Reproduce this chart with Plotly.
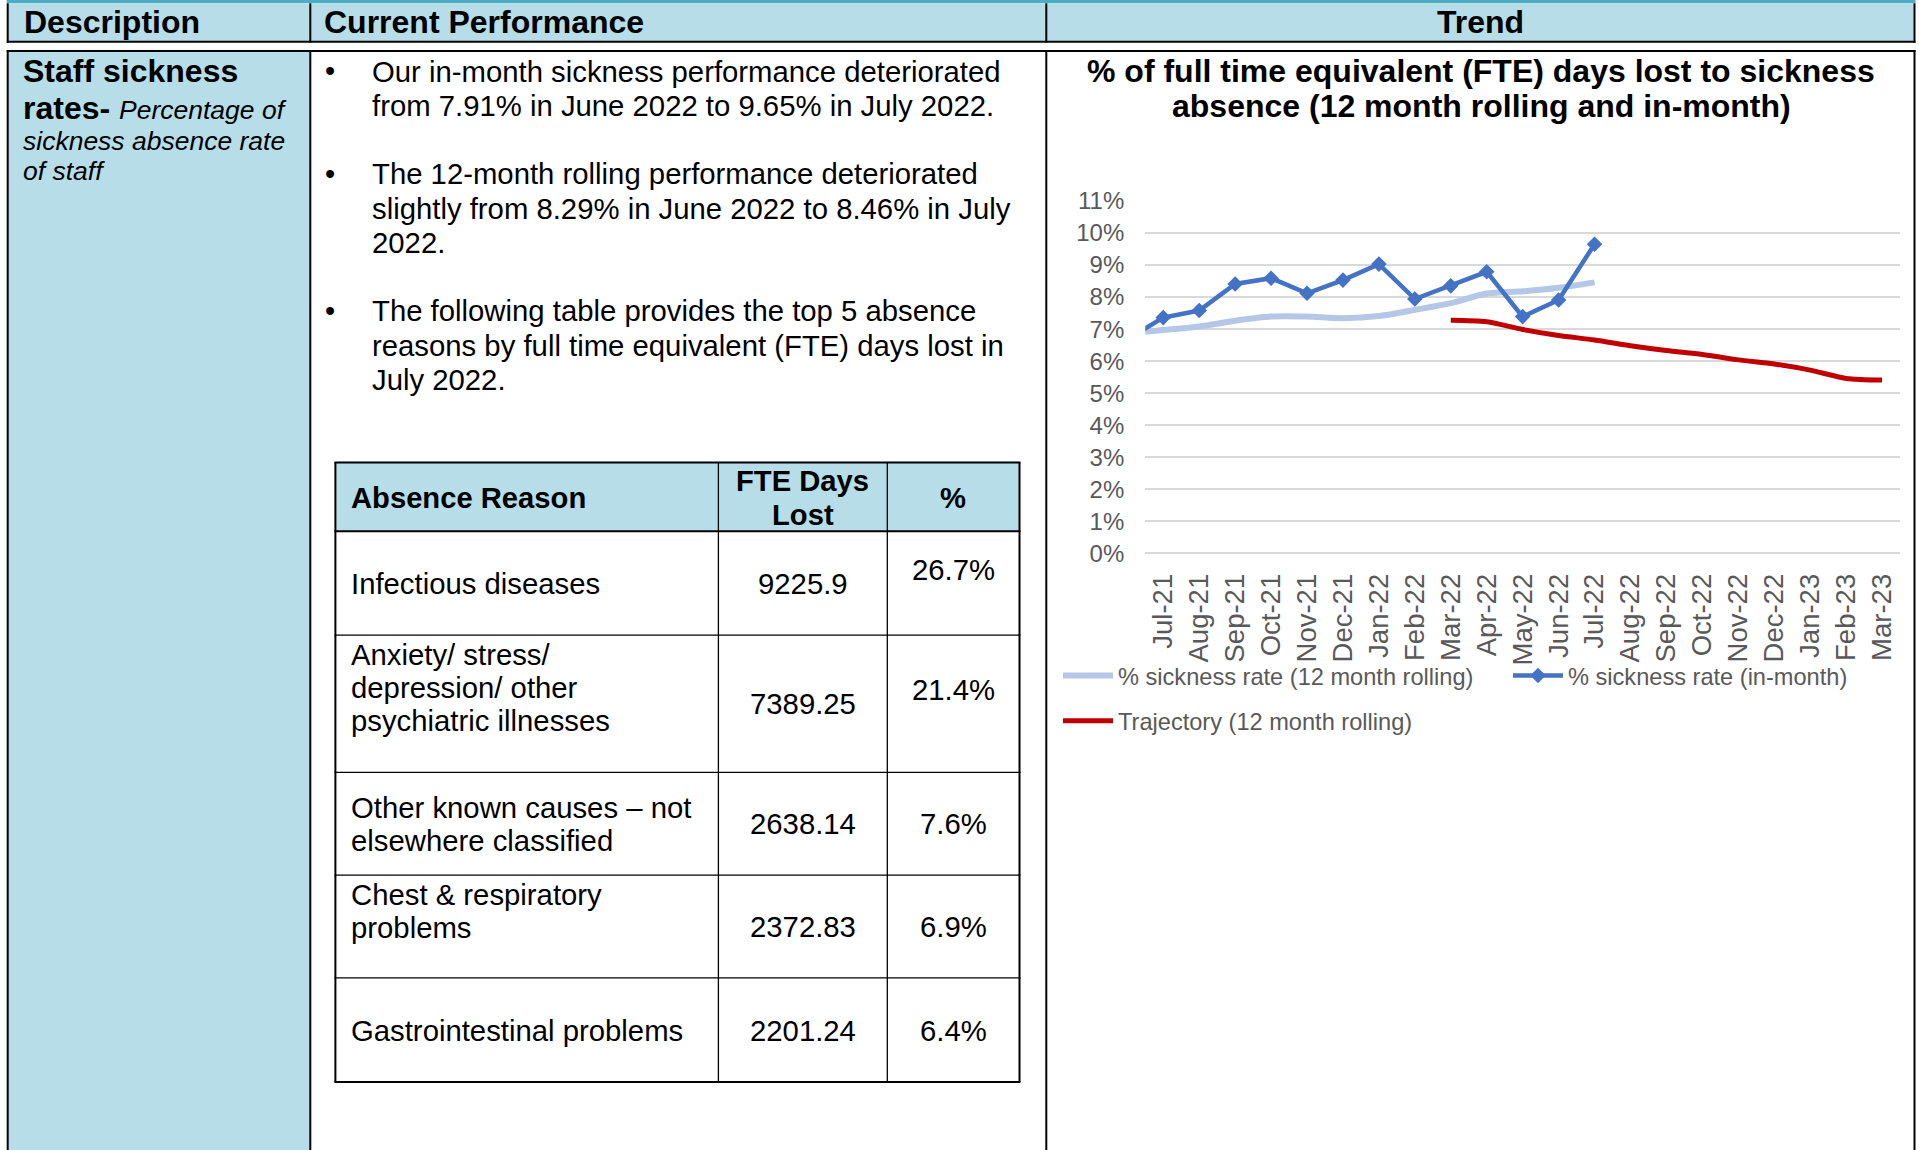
import textwrap
import plotly.graph_objects as go

W, H = 1919, 1150

# ---------------- data ----------------
months = ["Jun-21", "Jul-21", "Aug-21", "Sep-21", "Oct-21", "Nov-21", "Dec-21",
          "Jan-22", "Feb-22", "Mar-22", "Apr-22", "May-22", "Jun-22", "Jul-22",
          "Aug-22", "Sep-22", "Oct-22", "Nov-22", "Dec-22", "Jan-23", "Feb-23", "Mar-23"]

rolling_months = months[:14]
rolling_12m = [6.87, 6.97, 7.08, 7.26, 7.39, 7.39, 7.34, 7.41, 7.60, 7.81, 8.11, 8.18, 8.29, 8.46]

inmonth_months = months[:14]
in_month = [6.68, 7.36, 7.58, 8.41, 8.59, 8.12, 8.53, 9.03, 7.94, 8.35, 8.79, 7.39, 7.91, 9.65]

traj_months = months[9:]
trajectory = [7.28, 7.23, 6.99, 6.80, 6.66, 6.48, 6.33, 6.21, 6.04, 5.91, 5.72, 5.46, 5.41]

reasons = ["Infectious diseases",
           "Anxiety/ stress/ depression/ other psychiatric illnesses",
           "Other known causes \u2013 not elsewhere classified",
           "Chest & respiratory problems",
           "Gastrointestinal problems"]
fte_days = ["9225.9", "7389.25", "2638.14", "2372.83", "2201.24"]
fte_pct = ["26.7%", "21.4%", "7.6%", "6.9%", "6.4%"]

# ---------------- styling ----------------
DOC = "Liberation Sans, Arial, sans-serif"
LIGHT = "#B6DDE8"
TEAL = "#4BACC6"
AXIS_TXT = "#595959"

def X(px):
    return px / W

def Y(py):
    return 1 - py / H

shapes = []
annotations = []

def rect(x0, y0, x1, y1, fill):
    shapes.append(dict(type="rect", xref="paper", yref="paper", x0=X(x0), x1=X(x1),
                       y0=Y(y1), y1=Y(y0), fillcolor=fill, line=dict(width=0), layer="below"))

def hline(x0, x1, y, w=2, color="black"):
    shapes.append(dict(type="line", xref="paper", yref="paper", x0=X(x0), x1=X(x1),
                       y0=Y(y), y1=Y(y), line=dict(color=color, width=w)))

def vline(x, y0, y1, w=2, color="black"):
    shapes.append(dict(type="line", xref="paper", yref="paper", x0=X(x), x1=X(x),
                       y0=Y(y0), y1=Y(y1), line=dict(color=color, width=w)))

def txt(s, x, y, size, weight="normal", style="normal", anchor="left", family=DOC, color="black"):
    annotations.append(dict(text=s, x=X(x), y=Y(y), xref="paper", yref="paper",
                            xanchor=anchor, yanchor="middle", showarrow=False, align=anchor,
                            font=dict(size=size, family=family, color=color, weight=weight, style=style)))

# page table frame
L, C1, C2, R = 7.7, 310.3, 1046.3, 1914.5
rect(L - 1, 0, R + 1, 3.3, TEAL)
rect(L, 3.3, R, 41.7, LIGHT)
rect(L, 51, C1, H, LIGHT)
for xx in (L, C1, C2, R):
    vline(xx, 3.3, 42.7)
    vline(xx, 50, H)
hline(L - 1, R + 1, 41.7)
hline(L - 1, R + 1, 51)

# header texts
txt("Description", 22, 22, 32, weight="bold")
txt("Current Performance", 322, 22, 32, weight="bold")
txt("Trend", (C2 + R) / 2, 22, 32, weight="bold", anchor="center")

# description column
txt("Staff sickness", 21, 71, 32, weight="bold")
txt("<b>rates-</b> <i><span style='font-size:26.5px'>Percentage of</span></i>", 21, 107.5, 32)
txt("sickness absence rate", 21, 141, 26.5, style="italic")
txt("of staff", 21, 171, 26.5, style="italic")

# bullets
bullets = [
    ["Our in-month sickness performance deteriorated",
     f"from {in_month[12]:.2f}% in June 2022 to {in_month[13]:.2f}% in July 2022."],
    ["The 12-month rolling performance deteriorated",
     f"slightly from {rolling_12m[12]:.2f}% in June 2022 to {rolling_12m[13]:.2f}% in July",
     "2022."],
    ["The following table provides the top 5 absence",
     "reasons by full time equivalent (FTE) days lost in",
     "July 2022."],
]
bullet_top = [71, 173.8, 310.9]
LS = 34.3
for lines, y0 in zip(bullets, bullet_top):
    txt("\u2022", 330, y0, 29, anchor="center")
    for i, line in enumerate(lines):
        txt(line, 370, y0 + i * LS, 29.3)

# absence table
TL, TC1, TC2, TR = 335.4, 718.4, 887.3, 1019.5
rows = [462.6, 531.2, 635.2, 772.3, 875.1, 977.9, 1082]
rect(TL, rows[0], TR, rows[1], LIGHT)
for i, yy in enumerate(rows):
    hline(TL - 1, TR + 1, yy, w=2 if i in (0, 1, len(rows) - 1) else 1.3)
vline(TL, rows[0], rows[-1], w=2)
vline(TR, rows[0], rows[-1], w=2)
vline(TC1, rows[0], rows[-1], w=1.3)
vline(TC2, rows[0], rows[-1], w=1.3)

txt("Absence Reason", 349, 498, 29.2, weight="bold")
txt("FTE Days", (TC1 + TC2) / 2, 481, 29.2, weight="bold", anchor="center")
txt("Lost", (TC1 + TC2) / 2, 515, 29.2, weight="bold", anchor="center")
txt("%", (TC2 + TR) / 2, 498, 29.2, weight="bold", anchor="center")

reason_first_y = [583.8, 654.8, 807.8, 894.7, 1030.5]
days_y = [583.8, 703.8, 823.7, 926.5, 1030.5]
pct_y = [569, 689, 823.7, 926.5, 1030.5]
TLS = 33
for k in range(len(reasons)):
    for j, line in enumerate(textwrap.wrap(reasons[k], width=25)):
        txt(line, 349, reason_first_y[k] + j * TLS, 29.3)
    txt(fte_days[k], (TC1 + TC2) / 2, days_y[k], 29.3, anchor="center")
    txt(fte_pct[k], (TC2 + TR) / 2, pct_y[k], 29.3, anchor="center")

# chart title
txt("% of full time equivalent (FTE) days lost to sickness", 1481, 71, 32, weight="bold", anchor="center")
txt("absence (12 month rolling and in-month)", 1481, 106.5, 32, weight="bold", anchor="center")

# ---------------- chart ----------------
fig = go.Figure()
fig.add_trace(go.Scatter(x=rolling_months, y=rolling_12m, mode="lines",
                         name="% sickness rate (12 month rolling)",
                         line=dict(color="#B4C7E7", width=6, shape="spline", smoothing=0.8),
                         legend="legend"))
fig.add_trace(go.Scatter(x=inmonth_months, y=in_month, mode="lines+markers",
                         name="% sickness rate (in-month)",
                         line=dict(color="#4472C4", width=4.5),
                         marker=dict(symbol="diamond", size=12, color="#4472C4"),
                         legend="legend2"))
fig.add_trace(go.Scatter(x=traj_months, y=trajectory, mode="lines",
                         name="Trajectory (12 month rolling)",
                         line=dict(color="#C00000", width=5, shape="spline", smoothing=0.8),
                         legend="legend3"))

leg_common = dict(orientation="h", xanchor="left", yanchor="middle", bgcolor="rgba(0,0,0,0)",
                  font=dict(family=DOC, size=23.6, color=AXIS_TXT), itemwidth=50)

fig.update_layout(
    width=W, height=H,
    margin=dict(l=0, r=0, t=0, b=0, autoexpand=False),
    paper_bgcolor="white", plot_bgcolor="white",
    shapes=shapes, annotations=annotations,
    xaxis=dict(domain=[X(1145.3), X(1900)], type="category", categoryorder="array",
               categoryarray=months, range=[0.5, len(months) - 0.5],
               tickangle=-90, showgrid=False, showline=False, zeroline=False, ticks="",
               ticklabelstandoff=14, automargin=False,
               tickfont=dict(family=DOC, size=27.5, color=AXIS_TXT)),
    yaxis=dict(domain=[Y(553.3), Y(201)], range=[0, 11], dtick=1, ticksuffix="%",
               showgrid=True, gridcolor="#D9D9D9", gridwidth=2,
               zeroline=True, zerolinecolor="#D9D9D9", zerolinewidth=2,
               showline=False, ticks="", ticklabelstandoff=20, automargin=False,
               tickfont=dict(family=DOC, size=24, color=AXIS_TXT)),
    legend=dict(leg_common, x=X(1058), y=Y(675.6)),
    legend2=dict(leg_common, x=X(1508), y=Y(675.6)),
    legend3=dict(leg_common, x=X(1058), y=Y(721)),
    showlegend=True,
)

fig.write_html("out.html", config={"displayModeBar": False},
               post_script="document.body.style.margin='0';document.body.style.overflow='hidden';")
